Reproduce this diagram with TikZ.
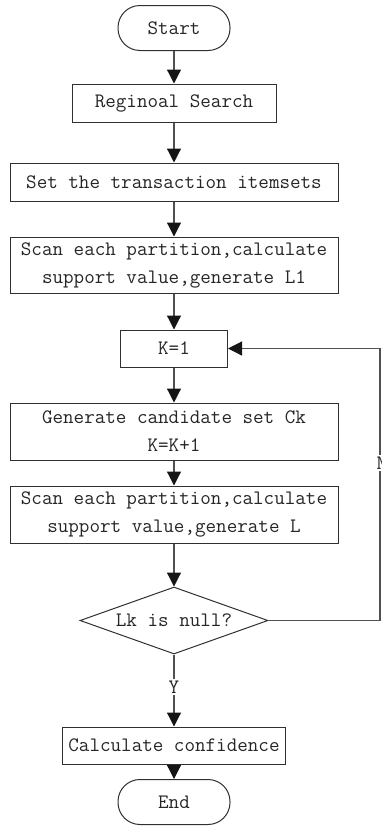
\documentclass[tikz,border=0pt]{standalone}
\usetikzlibrary{arrows.meta,shapes.geometric}
\definecolor{linegray}{HTML}{505050}
\definecolor{boxline}{HTML}{303030}
\definecolor{tipblack}{HTML}{151515}
\begin{document}
\begin{tikzpicture}[x=1pt,y=-1pt,
  font=\ttfamily\fontsize{20.5}{28}\selectfont,
  every node/.style={text=black!85},
  box/.style={draw=boxline,line width=1pt,rectangle,inner sep=0pt,align=center},
  terminal/.style={draw=boxline,line width=1pt,rectangle,rounded corners=22pt,inner sep=0pt,minimum width=112pt,minimum height=45pt},
  decision/.style={draw=boxline,line width=1pt,diamond,aspect=2.8,inner sep=0pt,minimum width=188pt,minimum height=67pt},
  arr/.style={draw=linegray,line width=1.2pt,-{Triangle[length=14pt,width=14pt,fill=tipblack,color=tipblack]}},
  lbl/.style={fill=white,inner sep=1.5pt}]
\useasboundingbox (0,0) rectangle (381,828);
\node[terminal] (start) at (174,28) {Start};
\node[box,minimum width=204pt,minimum height=38pt] (reg) at (174,103) {Reginoal Search};
\node[box,minimum width=328pt,minimum height=38pt] (set) at (174,182) {Set the transaction itemsets};
\node[box,minimum width=328pt,minimum height=56pt] (scan1) at (174,265) {Scan each partition,calculate\\support value,generate L1};
\node[box,minimum width=107pt,minimum height=37pt] (k1) at (174,348.5) {K=1};
\node[box,minimum width=328pt,minimum height=57pt] (gen) at (174,431.5) {Generate candidate set Ck\\K=K+1};
\node[box,minimum width=328pt,minimum height=57pt] (scan2) at (174,514.5) {Scan each partition,calculate\\support value,generate L};
\node[decision] (dec) at (174,620.5) {Lk is null?};
\node[box,minimum width=223pt,minimum height=37pt] (conf) at (174,745.5) {Calculate confidence};
\node[terminal] (end) at (174,802) {End};
\coordinate (r) at (380,620.5);
\draw[arr] (start) -- (reg);
\draw[arr] (reg) -- (set);
\draw[arr] (set) -- (scan1);
\draw[arr] (scan1) -- (k1);
\draw[arr] (k1) -- (gen);
\draw[arr] (gen) -- (scan2);
\draw[arr] (scan2) -- (dec);
\draw[arr] (dec) -- node[lbl,pos=0.45] (y) {Y} (conf);
\draw[arr] (conf) -- (end);
\draw[arr] (dec.east) -- (r) |- node[lbl,pos=0.29,xshift=2pt] (n) {N} (k1.east);
\end{tikzpicture}
\end{document}
